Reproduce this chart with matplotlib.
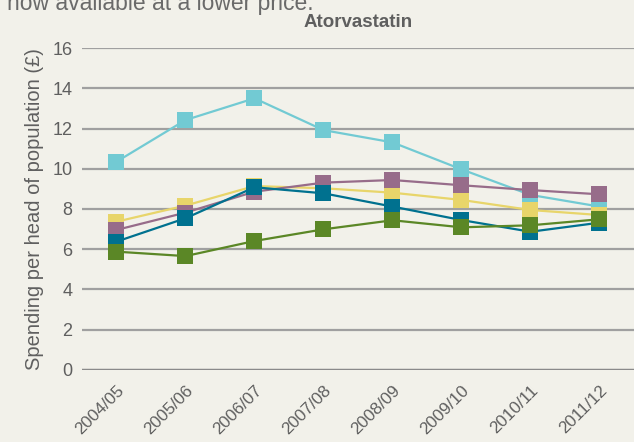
import numpy as np
import matplotlib.pyplot as plt

plt.rcParams['font.family'] = ['Liberation Sans', 'DejaVu Sans']

years = ['2004/05', '2005/06', '2006/07', '2007/08', '2008/09', '2009/10', '2010/11', '2011/12']
light_blue = [10.35, 12.42, 13.5, 11.92, 11.31, 9.97, 8.7, 8.12]
yellow = [7.37, 8.17, 9.14, 9.03, 8.81, 8.45, 7.95, 7.7]
purple = [6.96, 7.82, 8.86, 9.31, 9.44, 9.18, 8.94, 8.73]
teal = [6.38, 7.54, 9.08, 8.78, 8.12, 7.45, 6.87, 7.32]
green = [5.88, 5.66, 6.41, 6.99, 7.44, 7.09, 7.19, 7.49]

bg = '#f2f1ea'
txt = '#5f5f5f'

fig = plt.figure(figsize=(6.34, 4.42), dpi=100, facecolor=bg)
ax = fig.add_axes([0.1293, 0.1629, 0.8707, 0.7285], facecolor=bg)

x = np.arange(len(years))
# light blue drawn first, green last (as in the original)
for vals, col in [(light_blue, '#72cad3'), (yellow, '#e8d56a'), (purple, '#976c8a'),
                  (teal, '#00718f'), (green, '#5b8726')]:
    ax.plot(x, vals, '-s', color=col, lw=1.6, ms=11.5, mew=0, zorder=3)

ax.set_xlim(-0.5, 7.5)
ax.set_ylim(0, 16)
ax.set_yticks(range(0, 17, 2))
ax.set_xticks(x)
ax.set_xticklabels(years, rotation=45, ha='right', rotation_mode='anchor', fontsize=12.3)
ax.tick_params(axis='y', length=0, labelsize=13, colors=txt, pad=7)
ax.tick_params(axis='x', length=0, colors=txt, pad=9)

for v in range(2, 17, 2):
    ax.axhline(v, color='#a0a0a0', lw=1.6, zorder=1)
ax.axhline(0, color='#8a8a8a', lw=2.5, zorder=1)
for s in ax.spines.values():
    s.set_visible(False)

ax.set_ylabel('Spending per head of population (£)', fontsize=14.5, color=txt, labelpad=6)
ax.set_title('Atorvastatin', fontsize=13.5, fontweight='bold', color=txt, pad=15)

fig.text(0.011, 1 - 10 / 442, 'now available at a lower price.', fontsize=16.5,
         color='#6a6a6a', va='baseline', ha='left')

fig.savefig('out.png', dpi=100, facecolor=bg)
